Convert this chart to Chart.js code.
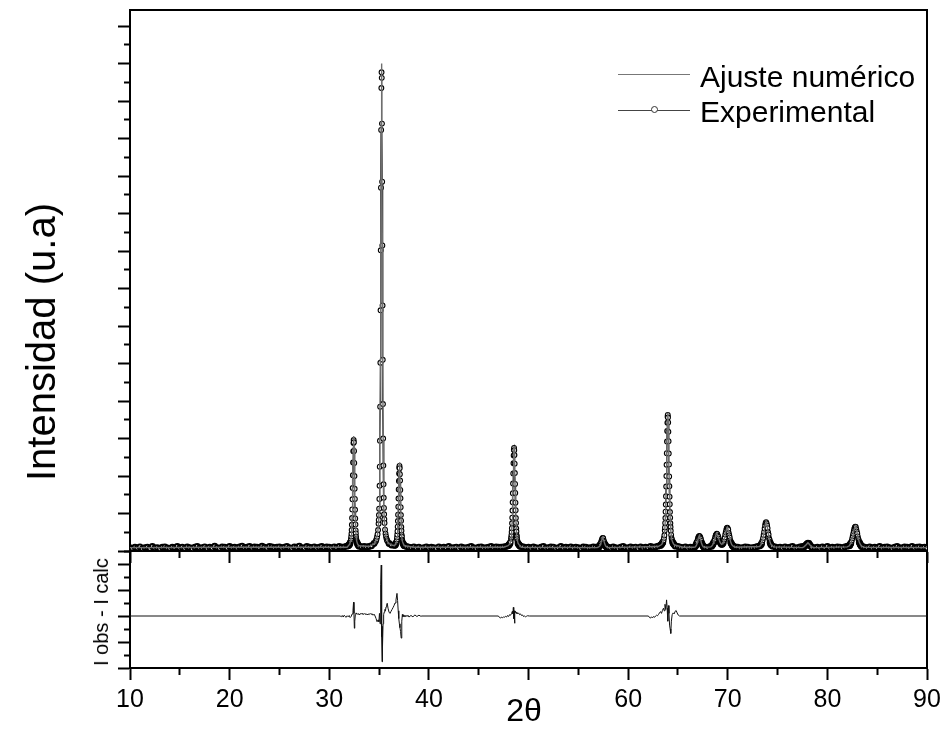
<!DOCTYPE html>
<html>
<head>
<meta charset="utf-8">
<script src="https://cdn.jsdelivr.net/npm/chart.js@4.4.0/dist/chart.umd.min.js"></script>
<style>
html,body{margin:0;padding:0;background:#fff;}
#wrap{position:relative;width:946px;height:729px;overflow:hidden;background:#fff;font-family:"Liberation Sans",Arial,sans-serif;color:#000;}
canvas{position:absolute;left:0;}
#cTop{top:0;}
#cBot{top:540px;}
.t{position:absolute;white-space:nowrap;line-height:1;}
.abs{position:absolute;}
</style>
</head>
<body>
<div id="wrap">
  <canvas id="cTop" width="946" height="566"></canvas>
  <canvas id="cBot" width="946" height="189"></canvas>
  <div id="yTitle" class="t" style="left:41px;top:342px;font-size:40px;transform:translate(-50%,-50%) rotate(-90deg);"></div>
  <div id="rTitle" class="t" style="left:101px;top:612px;font-size:20px;transform:translate(-50%,-50%) rotate(-90deg);"></div>
  <div id="xTitle" class="t" style="left:524px;top:710px;font-size:32px;transform:translate(-50%,-50%);"></div>
  <div class="abs" style="left:618px;top:74px;width:72px;height:1px;background:#777;"></div>
  <div id="leg0" class="t" style="left:700px;top:62px;font-size:30px;line-height:30px;"></div>
  <div class="abs" style="left:618px;top:110px;width:72px;height:1px;background:#444;"></div>
  <div class="abs" style="left:651px;top:106px;width:5px;height:5px;border:1px solid #333;border-radius:50%;background:#fff;"></div>
  <div id="leg1" class="t" style="left:700px;top:97px;font-size:30px;line-height:30px;"></div>
</div>
<script>
// ---------- texts ----------
const legendLabels = ['Ajuste numérico', 'Experimental'];
const yTitleText = 'Intensidad (u.a)';
const resTitleText = 'I obs - I calc';
const xTitleText = '2θ';
const xLabelValues = [10, 20, 30, 40, 60, 70, 80, 90];

// ---------- experimental pattern (2θ, counts) ----------
const expX = [
10,10.25,10.5,10.75,11,11.25,11.5,11.75,12,12.25,12.5,12.75,13,13.25,13.5,13.75,14,14.25,14.5,14.75,
15,15.25,15.5,15.75,16,16.25,16.5,16.75,17,17.25,17.5,17.75,18,18.25,18.5,18.75,19,19.25,19.5,19.75,
20,20.25,20.5,20.75,21,21.25,21.5,21.75,22,22.25,22.5,22.75,23,23.25,23.5,23.75,24,24.25,24.5,24.75,
25,25.25,25.5,25.75,26,26.25,26.5,26.75,27,27.25,27.5,27.75,28,28.25,28.5,28.75,29,29.25,29.5,29.75,
30,30.25,30.5,30.75,31,31.25,31.5,31.75,
31.9,31.95,32,32.05,32.1,32.15,
32.17,32.19,32.21,32.23,32.25,32.27,32.29,32.31,32.33,32.35,32.37,32.39,32.41,32.43,
32.45,
32.47,32.49,32.51,32.53,32.55,32.57,32.59,32.61,32.63,32.65,32.67,32.69,32.71,32.73,32.75,
32.8,32.85,32.9,32.95,33,
33.25,33.5,33.75,34,34.25,34.5,
34.65,34.7,34.75,34.8,34.85,34.9,34.95,
34.97,34.99,35.01,35.03,35.05,35.07,35.09,35.11,35.13,35.15,35.17,35.19,35.21,35.23,
35.25,
35.27,35.29,35.31,35.33,35.35,35.37,35.39,35.41,35.43,35.45,35.47,35.49,35.51,35.53,
35.55,35.6,35.65,35.7,35.75,35.8,35.85,
36,36.25,
36.55,36.6,36.65,36.7,36.75,
36.77,36.79,36.81,36.83,36.85,36.87,36.89,36.91,36.93,36.95,36.97,36.99,37.01,37.03,
37.05,
37.07,37.09,37.11,37.13,37.15,37.17,37.19,37.21,37.23,37.25,37.27,37.29,37.31,37.33,
37.35,37.4,37.45,37.5,37.55,
37.75,38,38.25,38.5,38.75,39,39.25,39.5,39.75,40,
40.25,40.5,40.75,41,41.25,41.5,41.75,42,42.25,42.5,
42.75,43,43.25,43.5,43.75,44,44.25,44.5,44.75,45,
45.25,45.5,45.75,46,46.25,46.5,46.75,47,47.25,47.5,
47.75,
47.95,48,48.05,48.1,48.15,48.2,48.25,
48.27,48.29,48.31,48.33,48.35,48.37,48.39,48.41,48.43,48.45,48.47,48.49,48.51,48.53,
48.55,
48.57,48.59,48.61,48.63,48.65,48.67,48.69,48.71,48.73,48.75,48.77,48.79,48.81,48.83,
48.85,48.9,48.95,49,49.05,49.1,49.15,
49.25,49.5,49.75,50,50.25,50.5,50.75,51,51.25,51.5,
51.75,52,52.25,52.5,52.75,53,53.25,53.5,53.75,54,
54.25,54.5,54.75,55,55.25,55.5,55.75,56,56.25,56.5,
56.75,
57,57.05,57.1,57.15,57.2,57.25,57.3,57.35,57.4,57.45,57.5,57.55,57.6,57.65,57.7,57.75,57.8,57.85,57.9,
58,58.25,58.5,58.75,59,59.25,59.5,59.75,60,60.25,
60.5,60.75,61,61.25,61.5,61.75,62,62.25,62.5,62.75,
63,63.25,
63.28,63.38,63.43,63.48,63.52,63.56,63.6,63.64,63.68,
63.7,63.72,63.74,63.76,63.78,63.8,63.82,63.84,63.86,63.88,63.9,63.92,63.94,63.96,
63.98,
64,64.02,64.04,64.06,64.08,64.1,64.12,64.14,64.16,64.18,64.2,64.22,64.24,64.26,
64.28,64.32,64.36,64.4,64.44,64.48,64.53,64.58,64.68,
64.75,65,65.25,65.5,65.75,66,66.25,66.5,
66.7,66.75,66.8,66.85,66.9,66.95,67,67.05,67.1,67.15,67.2,67.25,67.3,67.35,67.4,67.45,67.5,67.55,67.6,
67.75,68,68.25,
68.4,68.45,68.5,68.55,68.6,68.65,68.7,68.75,68.8,68.85,
68.9,68.95,69,69.05,69.1,69.15,69.2,69.25,69.3,69.35,
69.4,69.45,69.5,69.55,69.6,69.65,69.7,69.75,69.8,69.85,
69.9,69.95,70,70.05,70.1,70.15,70.2,70.25,70.3,70.35,
70.4,70.45,70.5,70.55,70.6,
70.75,71,71.25,71.5,71.75,72,72.25,72.5,72.75,73,73.25,
73.35,73.4,73.45,73.5,73.55,73.6,73.65,73.7,73.75,73.8,73.85,73.9,73.95,74,74.05,74.1,74.15,74.2,74.25,74.3,74.35,
74.5,74.75,75,75.25,75.5,75.75,76,76.25,76.5,76.75,77,77.25,77.5,
77.65,77.75,77.85,77.95,78.05,78.15,78.25,78.35,78.45,
78.75,79,79.25,79.5,79.75,80,80.25,80.5,80.75,81,81.25,81.5,81.75,82,
82.2,82.25,82.3,82.35,82.4,82.45,82.5,82.55,82.6,82.65,82.7,82.75,82.8,82.85,82.9,82.95,83,83.05,83.1,83.15,83.2,83.25,83.3,83.35,83.4,83.45,
83.5,83.75,84,84.25,84.5,84.75,85,85.25,85.5,85.75,86,86.25,86.5,86.75,87,87.25,87.5,87.75,88,88.25,88.5,88.75,89,89.25,89.5,89.75,90
];
const expY = [
9,7,10,8,11,6,9,10,7,12,8,9,6,10,11,8,7,10,9,12,
8,10,7,11,9,6,10,12,8,9,11,7,10,8,13,9,7,11,10,8,
12,9,10,8,11,13,9,10,12,8,11,10,9,13,10,8,12,11,9,10,
11,8,10,12,9,7,11,10,13,9,8,12,10,9,11,8,10,12,9,11,
10,8,11,9,12,10,11,13,
14,15,17,18,22,26,
29,33,39,46,56,70,88,111,138,168,202,236,266,288,
296,
290,267,235,200,166,139,110,87,71,55,47,38,32,28,26,
22,18,16,14,13,
11,12,11,12,14,20,
25,28,32,38,45,56,73,
83,96,113,139,174,225,294,385,502,642,802,969,1123,1235,
1277,
1262,1140,985,815,655,510,392,300,228,178,142,115,98,85,
75,57,46,39,33,29,26,
20,16,
15,16,17,21,25,
27,31,37,44,53,65,80,97,118,140,164,187,207,222,
227,
221,205,188,163,141,117,96,81,64,54,43,38,30,28,
24,20,18,15,14,
12,10,9,11,8,10,7,9,11,8,
10,9,7,11,8,10,9,12,8,9,
10,7,11,9,8,10,12,9,7,10,
11,8,9,10,12,9,11,10,10,11,
12,
14,15,17,18,21,25,33,
37,43,51,61,74,89,108,130,154,180,207,234,255,270,
275,
269,256,233,208,179,155,129,109,88,75,60,52,42,38,
32,26,20,18,16,15,13,
12,11,9,10,8,11,9,7,10,12,
8,9,11,10,7,9,12,8,10,9,
11,8,10,9,7,11,10,8,9,11,
10,
10,12,11,14,16,19,25,29,33,35,34,28,24,18,17,13,12,10,9,
10,8,11,9,7,10,12,9,8,11,
9,10,7,11,8,10,9,12,10,11,
13,15,
16,18,21,23,26,29,35,42,55,
63,75,88,105,124,146,172,200,230,261,292,320,342,358,
363,
356,343,318,293,260,231,199,173,145,125,104,89,74,64,
54,43,34,30,25,23,20,18,15,
13,12,10,9,11,8,10,9,
11,13,15,18,22,27,33,37,39,40,39,36,32,27,21,17,14,12,10,
10,9,12,
13,16,17,21,23,28,32,38,42,44,
46,45,41,38,33,28,25,23,20,18,
19,18,21,22,27,31,36,44,50,56,
61,62,60,57,48,42,36,29,23,20,
18,15,13,13,11,
11,10,8,9,11,10,8,9,10,12,14,
17,20,24,29,35,43,51,60,69,75,77,74,68,61,50,44,34,30,23,19,16,
13,11,9,10,8,11,9,10,12,8,9,11,12,
11,13,16,19,21,20,16,12,10,
9,10,8,11,9,12,8,10,9,11,10,8,11,13,
14,15,18,20,24,28,34,40,46,53,59,63,65,64,58,52,47,39,33,29,23,21,17,16,13,12,
12,10,9,11,8,10,9,12,8,10,11,9,7,10,12,9,8,11,10,9,12,8,10,11,9,10,8
];

// ---------- calculated profile (numerical fit) ----------
const calcX = [
10,20,31.8,32.05,32.15,32.21,32.25,32.29,32.33,32.37,32.41,32.45,32.49,32.53,32.57,32.61,32.65,32.69,32.75,32.85,32.95,33.05,
34,34.5,34.65,34.75,34.85,34.95,35.01,35.05,35.09,35.13,35.17,35.21,35.23,35.25,35.27,35.29,35.33,35.37,35.41,35.45,35.49,35.55,35.65,35.75,35.85,
36,36.25,36.55,36.65,36.75,36.81,36.85,36.89,36.93,36.97,37.01,37.05,37.09,37.13,37.17,37.21,37.25,37.29,37.35,37.45,37.55,
38.5,47.5,47.95,48.05,48.15,48.25,48.31,48.35,48.39,48.43,48.47,48.51,48.55,48.59,48.63,48.67,48.71,48.75,48.79,48.85,48.95,49.05,49.15,
49.3,56.9,57.05,57.15,57.25,57.35,57.45,57.55,57.65,57.75,57.85,58,
63,63.28,63.38,63.48,63.58,63.68,63.74,63.78,63.82,63.86,63.9,63.94,63.98,64.02,64.06,64.1,64.14,64.18,64.22,64.28,64.38,64.48,64.58,64.68,
65.5,66.6,66.75,66.85,66.95,67.05,67.15,67.25,67.35,67.45,67.55,67.7,
68.3,68.4,68.5,68.6,68.7,68.8,68.9,69,69.1,69.2,69.3,69.4,69.5,69.6,69.7,69.8,69.9,69.95,70,70.1,70.2,70.3,70.4,70.5,70.6,
70.8,73.2,73.35,73.45,73.55,73.65,73.75,73.85,73.95,74.05,74.15,74.25,74.35,
74.6,77.5,77.65,77.85,78.05,78.25,78.45,78.6,
82,82.2,82.3,82.4,82.5,82.6,82.7,82.8,82.9,83,83.1,83.2,83.3,83.4,83.5,83.7,90
];
const calcY = [
9,10,10,18,27,40,58,91,143,209,276,307,276,209,143,91,58,40,27,18,15,14,
12,19,25,33,45,74,115,177,299,511,817,1144,1257,1300,1257,1144,817,511,299,177,115,74,45,33,25,
20,16,14,18,25,38,55,83,122,172,216,237,216,172,122,83,55,38,25,18,14,
10,10,14,17,21,33,52,75,110,157,211,260,280,260,211,157,110,75,52,33,21,17,14,
10,9,11,13,19,29,36,29,19,13,11,9,
12,16,18,23,31,55,89,126,175,234,297,348,369,348,297,234,175,126,89,55,31,23,18,16,
10,10,11,15,22,35,41,35,22,15,11,10,
11,13,17,23,32,42,47,42,33,25,20,18,20,26,37,50,61,64,61,49,35,24,17,14,12,
10,12,17,24,35,51,69,78,69,51,35,24,17,
11,9,11,16,22,16,11,9,
11,14,18,24,34,46,59,66,59,46,34,24,18,14,12,10,9
];

// ---------- residual I obs - I calc ----------
const resX = [
10,31.1,31.2,31.3,31.4,31.5,31.6,31.7,31.8,31.9,
32,32.1,32.2,32.3,32.38,32.44,32.48,32.52,32.56,32.62,
32.7,32.8,32.9,33,33.1,33.2,33.3,33.4,33.5,33.6,
33.7,33.8,33.9,34,34.1,34.2,34.3,34.4,34.5,34.6,
34.7,34.8,34.9,34.98,35.04,35.1,35.14,35.18,35.22,35.25,
35.27,35.3,35.33,35.36,35.4,35.46,35.52,35.58,35.64,35.7,
35.76,35.82,35.9,36,36.1,36.2,36.3,36.4,36.5,36.6,
36.7,36.8,36.86,36.92,36.98,37.04,37.1,37.16,37.22,37.28,
37.34,37.4,37.5,37.6,37.7,37.8,37.9,38,38.2,38.4,
38.6,38.8,39,39.2,39.3,46.98,47.1,47.2,47.3,47.4,
47.5,47.6,47.7,47.8,47.9,48,48.1,48.2,48.3,48.38,
48.44,48.48,48.52,48.56,48.6,48.64,48.7,48.76,48.82,48.9,
49,49.1,49.2,49.3,49.4,49.5,49.6,49.7,49.8,49.9,
50.09,62.04,62.15,62.25,62.35,62.45,62.55,62.65,62.75,62.85,
62.95,63.05,63.15,63.25,63.35,63.45,63.55,63.62,63.7,63.78,
63.86,63.92,63.98,64.04,64.1,64.16,64.22,64.28,64.34,64.42,
64.52,64.62,64.72,64.82,64.92,65.02,65.16,90
];
const resY = [
0,0,-3,2,-4,3,-2,-5,1,-3,
2,-6,-2,8,20,53,10,-47,-20,5,
12,6,10,4,9,7,11,5,10,6,
9,4,8,5,10,6,9,3,7,0,
-10,-22,-15,-22,10,-30,40,120,196,60,
-80,-176,-40,-120,-30,5,15,25,20,35,
42,49,30,15,10,18,25,32,40,50,
62,87,60,20,-10,-30,-45,-60,-85,-20,
6,-3,4,-4,3,-2,3,-4,2,-3,
4,-2,3,-1,0,0,-6,-8,-4,-7,
-3,-5,-1,-4,2,-2,5,3,10,18,
8,33,-10,20,-28,12,18,10,15,8,
12,5,8,2,4,-2,0,-3,-1,1,
0,0,-6,-8,-3,-7,-2,-5,0,3,
1,6,12,17,10,22,30,20,45,25,
62,30,-20,40,10,-35,-50,-67,-20,5,
12,8,18,21,12,4,0,0
];

// ---------- build ----------
document.getElementById('yTitle').textContent = yTitleText;
document.getElementById('rTitle').textContent = resTitleText;
document.getElementById('xTitle').textContent = xTitleText;
document.getElementById('leg0').textContent = legendLabels[0];
document.getElementById('leg1').textContent = legendLabels[1];

const pts = (xs, ys) => xs.slice(0, Math.min(xs.length, ys.length)).map((x, i) => ({x: x, y: ys[i]}));
Chart.defaults.font.family = '"Liberation Sans", Arial, sans-serif';
Chart.defaults.color = '#000';

const isMinor = (c, step) => c.tick && Math.abs(c.tick.value % step) > 1e-9;
const borderOpt = {display: true, width: 2, color: '#000'};

function xAxis(showLabels, h) {
  return {
    type: 'linear', position: 'bottom', min: 10, max: 90, offset: false,
    ticks: {
      stepSize: 5, maxTicksLimit: 100, includeBounds: false, autoSkip: false, maxRotation: 0,
      display: showLabels, padding: 5, color: '#000', font: {size: 25},
      callback: v => xLabelValues.includes(v) ? String(v) : ''
    },
    grid: {
      drawOnChartArea: false, drawTicks: true, tickLength: 12, tickWidth: 2, tickColor: '#000',
      tickBorderDash: c => isMinor(c, 10) ? [6, 6] : [],
      tickBorderDashOffset: 0
    },
    border: borderOpt,
    afterFit: s => { s.height = h; }
  };
}
function yAxis(min, max, step, majorStep) {
  return {
    type: 'linear', position: 'left', min: min, max: max,
    ticks: {stepSize: step, maxTicksLimit: 100, includeBounds: false, display: false},
    grid: {
      drawOnChartArea: false, drawTicks: true, tickLength: 12, tickWidth: 2, tickColor: '#000',
      tickBorderDash: c => isMinor(c, majorStep) ? [6, 6] : [],
      tickBorderDashOffset: c => isMinor(c, majorStep) ? 6 : 0
    },
    border: borderOpt,
    afterFit: s => { s.width = 130; }
  };
}
function frameAxis(pos, min, max) {
  return {
    type: 'linear', position: pos, min: min, max: max,
    ticks: {display: false},
    grid: {drawOnChartArea: false, drawTicks: false},
    border: borderOpt,
    afterFit: s => { if (pos === 'top' || pos === 'bottom') s.height = 0; else s.width = 0; }
  };
}

const common = {
  responsive: false, animation: false, devicePixelRatio: 1, events: [],
  plugins: {legend: {display: false}, tooltip: {enabled: false}, title: {display: false}},
  elements: {line: {tension: 0}}
};

new Chart(document.getElementById('cTop'), {
  type: 'line',
  data: {
    datasets: [
      {
        label: legendLabels[0], data: pts(calcX, calcY), xAxisID: 'x', yAxisID: 'y',
        borderColor: '#6e6e6e', borderWidth: 1.4, pointRadius: 0, fill: false
      },
      {
        label: legendLabels[1], data: pts(expX, expY), xAxisID: 'x', yAxisID: 'y',
        borderColor: '#000', borderWidth: 1.2, fill: false,
        pointRadius: 2.4,
        pointBorderWidth: c => (c.raw && c.raw.y < 24) ? 2 : 1.1,
        pointBackgroundColor: '#fff', pointBorderColor: '#000'
      }
    ]
  },
  options: Object.assign({}, common, {
    layout: {padding: {left: 0, right: 19, top: 10, bottom: 0}},
    scales: {
      x: xAxis(false, 15),
      y: yAxis(0, 1443, 50, 100),
      xT: frameAxis('top', 10, 90),
      yR: frameAxis('right', 0, 1443)
    }
  })
});

new Chart(document.getElementById('cBot'), {
  type: 'line',
  data: {
    datasets: [
      {
        label: resTitleText, data: pts(resX, resY), xAxisID: 'x', yAxisID: 'y',
        borderColor: '#111', borderWidth: 1, pointRadius: 0, fill: false
      }
    ]
  },
  options: Object.assign({}, common, {
    layout: {padding: {left: 0, right: 19, top: 11, bottom: 0}},
    scales: {
      x: xAxis(true, 61),
      y: yAxis(-200, 250, 50, 100),
      yR: frameAxis('right', -200, 250)
    }
  })
});
</script>
</body>
</html>
